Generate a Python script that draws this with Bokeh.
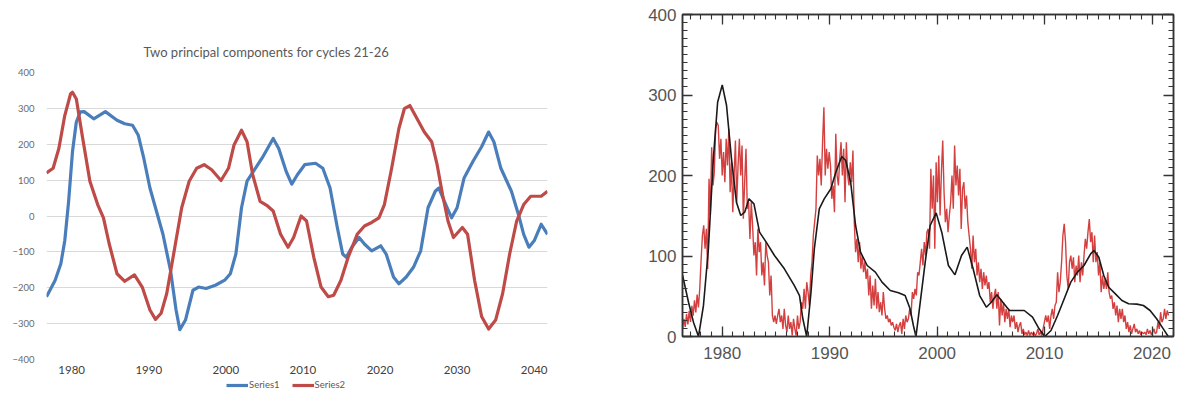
from bokeh.plotting import figure
from bokeh.models import (Range1d, FixedTicker, SingleIntervalTicker, LinearAxis,
                          Legend, LegendItem, CustomLabelingPolicy)
from bokeh.layouts import row, column
from bokeh.embed import file_html
from bokeh.resources import INLINE

# ---------------- Left panel data: two principal components ----------------
pc_title = "Two principal components for cycles  21-26"
pc_ticks = [1980, 1990, 2000, 2010, 2020, 2030, 2040]
pc_yticks = [-400, -300, -200, -100, 0, 100, 200, 300, 400]
pc_names = ["Series1", "Series2"]

series1_year = [1976.73, 1977.84, 1978.59, 1979.10, 1979.60, 1980.10, 1980.60, 1981.11, 1981.61, 1982.86,
                1984.37, 1985.88, 1986.88, 1987.89, 1988.64, 1989.35, 1990.15, 1990.87, 1991.84, 1992.82,
                1993.54, 1994.03, 1994.76, 1995.73, 1996.46, 1997.43, 1998.64, 1999.85, 2000.58, 2001.30,
                2002.03, 2002.75, 2003.72, 2004.69, 2005.41, 2006.14, 2006.86, 2007.83, 2008.55, 2009.28,
                2010.23, 2011.64, 2012.58, 2013.52, 2014.46, 2015.16, 2015.63, 2016.34, 2017.28, 2017.98,
                2018.92, 2020.09, 2020.80, 2021.75, 2022.45, 2023.40, 2024.34, 2025.28, 2026.23, 2027.17,
                2027.64, 2028.35, 2029.29, 2030.00, 2030.91, 2032.05, 2033.18, 2034.09, 2034.77, 2035.68,
                2037.05, 2037.95, 2038.64, 2039.32, 2040.00, 2040.91, 2041.73]
series1_val = [-225, -180, -133, -69, 41, 179, 262, 290, 291, 271,
               291, 267, 257, 253, 225, 161, 78, 23, -51, -152,
               -262, -317, -290, -207, -198, -202, -193, -179, -161, -106,
               23, 97, 129, 161, 188, 216, 188, 124, 89, 115,
               143, 147, 133, 78, -32, -106, -115, -87, -60, -78,
               -97, -83, -106, -170, -189, -170, -143, -97, 23, 69,
               78, 41, -5, 23, 106, 152, 193, 234, 207, 133,
               69, 5, -51, -87, -69, -23, -51]

series2_year = [1976.73, 1977.59, 1978.34, 1979.10, 1979.85, 1980.10, 1980.60, 1981.36, 1982.36, 1983.37,
                1984.12, 1984.87, 1985.88, 1986.88, 1988.14, 1989.15, 1990.15, 1990.87, 1991.60, 1992.33,
                1993.30, 1994.27, 1995.24, 1996.21, 1997.18, 1998.16, 1999.37, 2000.34, 2001.06, 2002.03,
                2002.75, 2003.48, 2004.44, 2005.41, 2006.14, 2007.10, 2008.07, 2008.79, 2009.76, 2010.47,
                2011.41, 2012.35, 2013.29, 2013.99, 2014.93, 2015.87, 2017.04, 2017.98, 2018.92, 2019.86,
                2020.57, 2021.51, 2022.45, 2023.16, 2023.87, 2024.81, 2025.75, 2026.70, 2027.41, 2028.11,
                2028.82, 2029.53, 2030.68, 2031.36, 2032.27, 2033.18, 2034.09, 2035.00, 2035.91, 2036.82,
                2037.73, 2038.64, 2039.55, 2040.91, 2041.73]
series2_val = [120, 133, 189, 280, 340, 345, 326, 225, 97, 32,
               -5, -78, -161, -182, -164, -198, -262, -288, -271, -216,
               -97, 23, 97, 133, 143, 129, 99, 133, 198, 239,
               207, 115, 41, 28, 14, -51, -87, -60, 0, -14,
               -115, -198, -225, -221, -179, -115, -51, -28, -18, -5,
               32, 133, 244, 299, 308, 271, 234, 207, 143, 60,
               -14, -60, -32, -51, -179, -280, -315, -290, -216, -106,
               -14, 32, 55, 55, 69]

# ---------------- Right panel data: sunspot number ----------------
ssn_start = 1976.31
ssn_step = 0.1229
ssn_values = [
    9.5, 22, 12, 28, 15, 32, 18, 38, 26, 45, 30, 52, 36, 60, 95,
    125.5, 138, 109, 133.7, 84, 195.8, 150.3, 235.2, 187.6, 204,
    258, 266, 262, 220.7, 245.5, 200, 229, 191.7, 245.5, 212.4,
    258, 179.3, 216.5, 154.4, 200, 243.5, 166.8, 212.4, 245.5, 200,
    237.2, 146.2, 191.7, 233.1, 158.6, 166.8, 121.3, 166.8, 138, 100.6,
    117.2, 75.8, 133.7, 104.8, 117.2, 75.8, 92.3, 63.4, 117.2, 100.6,
    92.3, 51, 75.8, 26.1, 17.8, 26.1, 15.7, 26.1, 34.4, 17.8,
    26.1, 9.5, 34.4, 13.7, 5.4, 26.1, 9.5, 17.8, 1.2, 22,
    9.5, 1.2, 26.1, 9.5, 17.8, 42.6, 34.4, 59.2, 34.4, 67.5,
    55.1, 38.5, 75.8, 92.3, 125.5, 142, 158.6, 224.8, 200, 220.7,
    187.6, 241.4, 284.9, 200, 233.1, 208.3, 229, 212.4, 171, 187.6,
    154.4, 251.7, 200, 187.6, 220.7, 241.4, 200, 233.1, 166.8, 241.4,
    200, 187.6, 216.5, 191.7, 231, 142, 104.8, 121.3, 92.3, 117.2,
    84.1, 100.6, 79.9, 92.3, 71.6, 84.1, 51, 75.8, 34.4, 63.4,
    38.5, 71.6, 34.4, 55.1, 30.2, 42.6, 26.1, 55.1, 34.4, 22,
    26.1, 17.8, 22, 13.7, 17.8, 11.6, 7.5, 15.7, 5.4, 13.7,
    17.8, 3.3, 22, 9.5, 26.1, 17.8, 22, 34.4, 26.1, 55.1,
    46.8, 59.2, 51, 79.9, 75.8, 92.3, 109, 88.2, 117.2, 100.6,
    129.6, 133.7,
    109, 208.3, 158.6, 200, 109, 216.5, 166.8, 224.8, 150.3, 204,
    243.5, 179.3, 142, 158.6, 129.6, 150.3, 166.8, 200, 158.6, 237.2,
    187.6, 212.4, 175.1, 208.3, 133.7, 183.4, 191.7, 158.6, 175.1, 142,
    125.5, 109, 84.1, 125.5, 92.3, 109, 75.8, 92.3, 67.5, 84.1,
    59.2, 79.9, 63.4, 75.8, 59.2, 67.5, 42.6, 55.1, 34.4, 51,
    59.2, 34.4, 55.1, 13.7, 46.8, 26.1, 42.6, 17.8, 34.4, 22,
    34.4, 11.6, 26.1, 17.8, 26.1, 9.5, 17.8, 5.4, 13.7, 17.8,
    3.3, 9.5, 2.1, 5.4, 1.2, 7.5, 1.2, 5.4, 2.1, 5.4,
    1.2, 3.3, 9.5, 2.1, 5.4, 1.2, 9.5, 17.8, 26.1, 17.8,
    26.1,
    9.5, 26.1, 34.4, 22, 38.5, 42.6, 79.9, 55.1, 67.5, 92.3,
    125.5, 139.9, 117.2, 75.8, 59.2, 92.3, 100.6, 84.1, 98.5, 67.5,
    88.2, 75.8, 100.6, 67.5, 92.3, 75.8, 100.6, 121.3, 109, 129.6,
    145.8, 117.2, 129.6, 92.3, 125.5, 92.3, 104.8, 75.8, 92.3, 55.1,
    75.8, 59.2, 71.6, 59.2, 79.9, 55.1, 46.8, 51, 34.4, 42.6,
    26.1, 38.5, 17.8, 34.4, 22, 34.4, 17.8, 26.1, 9.5, 17.8,
    5.4, 13.7, 3.3, 9.5, 15.7, 5.4, 9.5, 3.3, 7.5, 2.1,
    5.4, 3.3, 5.4, 2.1, 9.5, 3.3, 7.5, 2.1, 5.4, 9.5,
    3.3, 5.4, 17.8, 9.5, 30.2, 17.8, 22, 34.4, 22, 32.3,
    26.1,
]
ssn_year = [ssn_start + i * ssn_step for i in range(len(ssn_values))]

smooth_year = [1976.31, 1976.86, 1977.32, 1977.79, 1978.25, 1978.71, 1979.17, 1979.57, 1980.00, 1980.40,
               1980.86, 1981.32, 1981.72, 1982.09, 1982.49, 1982.95, 1983.47, 1984.09, 1984.86, 1985.78,
               1986.70, 1987.19, 1987.50, 1987.86, 1988.26, 1988.57, 1989.03, 1989.49, 1990.11, 1990.57,
               1991.12, 1991.49, 1991.95, 1992.41, 1992.87, 1993.49, 1994.25, 1994.87, 1995.64, 1996.40,
               1997.02, 1997.48, 1997.79, 1998.03, 1998.43, 1998.89, 1999.35, 1999.91, 2000.43, 2001.05,
               2001.66, 2002.27, 2002.80, 2003.35, 2003.96, 2004.58, 2005.04, 2005.56, 2006.11, 2006.73,
               2007.34, 2008.11, 2008.88, 2009.49, 2010.02, 2010.60, 2011.21, 2011.83, 2012.44, 2013.06,
               2013.67, 2014.29, 2014.59, 2015.05, 2015.51, 2015.97, 2016.59, 2017.20, 2017.82, 2018.59,
               2019.20, 2019.82, 2020.43, 2021.05, 2021.51]
smooth_val = [75.8, 42.6, 17.8, 0, 38.5, 108.9, 220.7, 291, 312.6, 287,
              220.7, 166.8, 150.3, 154.4, 171, 164.8, 129.6, 117.2, 100.6, 84.1,
              63.4, 50.9, 22, 0, 55, 108.9, 158.6, 171, 183.5, 204,
              223.6, 218.6, 191.7, 137.9, 104.8, 88.2, 79.9, 67.5, 57.1, 54.3,
              50.9, 34.4, 13.7, 0, 42.6, 92.3, 137.9, 153.6, 129.6, 88.2,
              76.6, 100.6, 111, 84.1, 50.9, 36.4, 42.6, 51.8, 42.6, 32.3,
              32.3, 32.3, 24, 9.5, 0, 7.5, 26.1, 46.8, 67.5, 79.9,
              88.2, 102.7, 106.8, 98.5, 75.8, 61.2, 53, 44.7, 40.6, 40.2,
              38.5, 32.3, 22, 9.5, 0]
ssn_xticks = 10
ssn_yticks = 100

H = 392
LEG_H = 16
BLUE = "#4a7ebb"
RED = "#be4b48"

# ---------------- Left figure ----------------
p1 = figure(width=600, height=H - LEG_H, output_backend="svg", toolbar_location=None,
            x_range=Range1d(series1_year[0], series1_year[-1]), y_range=Range1d(-400, 400),
            min_border_left=46, min_border_right=53, min_border_top=72,
            min_border_bottom=H - LEG_H - 360)
p1.frame_align = False
p1.outline_line_color = None

p1.title.text = pc_title
p1.title.text_font = "Lato"
p1.title.text_font_size = "13px"
p1.title.text_font_style = "normal"
p1.title.text_color = "#595959"
p1.title.align = "left"
p1.title.offset = 97
p1.title.standoff = 25

p1.xaxis.ticker = FixedTicker(ticks=pc_ticks)
p1.yaxis.ticker = FixedTicker(ticks=pc_yticks)
for ax in (p1.xaxis, p1.yaxis):
    ax.axis_line_color = None
    ax.major_tick_line_color = None
    ax.minor_tick_line_color = None
    ax.major_label_text_font = "Lato"
p1.xaxis.major_label_text_font_size = "11.5px"
p1.xaxis.major_label_text_color = "#404040"
p1.xaxis.major_label_standoff = 0
p1.yaxis.major_label_text_font_size = "9.5px"
p1.yaxis.major_label_text_color = "#6a6a6a"
p1.yaxis.major_label_standoff = 6
p1.xgrid.grid_line_color = None
p1.ygrid.grid_line_color = "#d9d9d9"
p1.ygrid.grid_line_width = 1.2

p1.line(series1_year, series1_val, line_color=BLUE, line_width=3.2, line_join="round")
p1.line(series2_year, series2_val, line_color=RED, line_width=3.2, line_join="round")

# legend strip under the left chart
pl = figure(width=600, height=LEG_H, output_backend="svg", toolbar_location=None,
            x_range=Range1d(0, 1), y_range=Range1d(0, 1),
            x_axis_location=None, y_axis_location=None,
            min_border_left=0, min_border_right=0, min_border_top=0, min_border_bottom=0)
pl.frame_align = False
pl.outline_line_color = None
pl.grid.visible = False
l1 = pl.line(x=[-5, -4], y=[-5, -4], line_color=BLUE, line_width=3.2)
l2 = pl.line(x=[-5, -4], y=[-5, -4], line_color=RED, line_width=3.2)
legend = Legend(items=[LegendItem(label=pc_names[0], renderers=[l1]),
                       LegendItem(label=pc_names[1], renderers=[l2])],
                orientation="horizontal", location=(226, 2),
                label_text_font="Lato", label_text_font_size="9.5px", label_text_color="#595959",
                glyph_width=22, glyph_height=8, label_standoff=1, spacing=12,
                label_height=9, padding=0, margin=0, border_line_color=None, background_fill_alpha=0)
pl.add_layout(legend)

left_block = column(p1, pl)

# ---------------- Right figure ----------------
p2 = figure(width=578, height=H, output_backend="svg", toolbar_location=None,
            x_range=Range1d(1976.3, 2022.0), y_range=Range1d(0, 400),
            min_border_left=82, min_border_right=1, min_border_top=14, min_border_bottom=H - 336)
p2.frame_align = False
p2.grid.visible = False
p2.outline_line_color = "#333333"
p2.outline_line_width = 1.5

bottom_axis = p2.xaxis[0]
left_axis = p2.yaxis[0]
bottom_axis.ticker = SingleIntervalTicker(interval=ssn_xticks, num_minor_ticks=10)
left_axis.ticker = SingleIntervalTicker(interval=ssn_yticks, num_minor_ticks=10)

top_axis = LinearAxis(ticker=SingleIntervalTicker(interval=ssn_xticks, num_minor_ticks=10),
                      major_label_policy=CustomLabelingPolicy(code="return new Set()"))
right_axis = LinearAxis(ticker=SingleIntervalTicker(interval=ssn_yticks, num_minor_ticks=10),
                        major_label_policy=CustomLabelingPolicy(code="return new Set()"))
p2.add_layout(top_axis, "above")
p2.add_layout(right_axis, "right")

for ax in (bottom_axis, left_axis, top_axis, right_axis):
    ax.axis_line_color = "#333333"
    ax.axis_line_width = 1.5
    ax.major_tick_in = 10
    ax.major_tick_out = 0
    ax.minor_tick_in = 5
    ax.minor_tick_out = 0
    ax.major_tick_line_color = "#333333"
    ax.minor_tick_line_color = "#333333"
    ax.major_tick_line_width = 1.3
    ax.minor_tick_line_width = 1.1
    ax.major_label_text_font = "Liberation Sans"
    ax.major_label_text_color = "#555555"
    ax.major_label_text_font_size = "17px"
for ax in (top_axis, right_axis):
    ax.major_label_text_font_size = "1px"
    ax.major_label_standoff = 0
bottom_axis.major_label_standoff = 10
left_axis.major_label_standoff = 6

p2.line(ssn_year, ssn_values, line_color="#cc1f1f", line_width=1.4, line_alpha=0.85)
p2.line(smooth_year, smooth_val, line_color="#1a1a1a", line_width=1.6)

layout = row(left_block, p2)
open("out.html", "w").write(file_html(layout, INLINE))
